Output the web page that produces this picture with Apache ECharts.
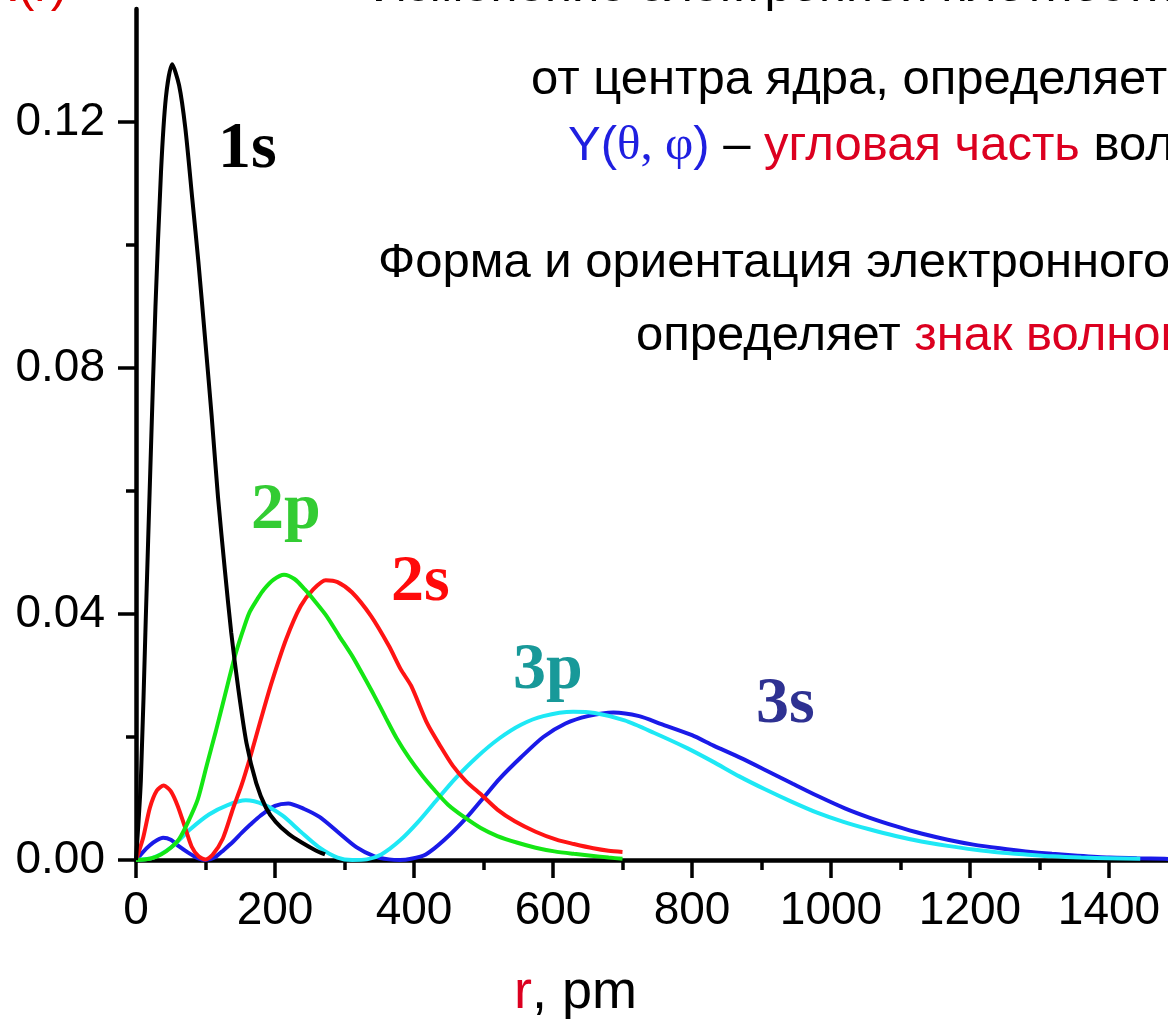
<!DOCTYPE html>
<html><head><meta charset="utf-8">
<script src="https://cdn.jsdelivr.net/npm/echarts@6/dist/echarts.min.js"></script>
<style>html,body{margin:0;padding:0;background:#fff;overflow:hidden}#c{width:1168px;height:1020px}</style>
</head><body><div id="c"></div>
<script>
// ---- data (r in pm, radial probability) ----
const xTicks = [0, 200, 400, 600, 800, 1000, 1200, 1400];
const yTicks = [0, 0.04, 0.08, 0.12];
const yMinorTicks = [0.02, 0.06, 0.10];

const r1s = [0, 7, 14, 21, 28, 36, 43, 52, 62, 71, 81, 90, 100, 109, 118, 128, 137, 147, 159, 173, 187, 201, 220, 239, 258, 272];
const v1s = [0, 0.013, 0.039, 0.065, 0.090, 0.112, 0.124, 0.1294, 0.126, 0.119, 0.1075, 0.097, 0.084, 0.072, 0.059, 0.047, 0.037, 0.028, 0.019, 0.0125, 0.0085, 0.0062, 0.0042, 0.0028, 0.0016, 0.0009];

const r2s = [0, 10, 20, 30, 40, 50, 60, 70, 80, 90, 100, 110, 125, 140, 152, 165, 180, 195, 216, 237, 255, 273, 290, 311, 338, 364, 381, 396, 419, 438, 456, 475, 498, 520, 545, 575, 605, 630, 658, 680, 700];
const v2s = [0, 0.0035, 0.0085, 0.0113, 0.0121, 0.0112, 0.0088, 0.0055, 0.0022, 0.0006, 0.0001, 0.0008, 0.0035, 0.0085, 0.0122, 0.0170, 0.0230, 0.0288, 0.0359, 0.0413, 0.0440, 0.0455, 0.0452, 0.0435, 0.0397, 0.0348, 0.0310, 0.0283, 0.0222, 0.0185, 0.0153, 0.0128, 0.0105, 0.0082, 0.0063, 0.0046, 0.0033, 0.0026, 0.0019, 0.0015, 0.0013];

const r2p = [0, 20, 36, 50, 62, 75, 89, 102, 115, 128, 142, 153, 163, 175, 184, 198, 213, 228, 243, 258, 274, 292, 311, 327, 343, 360, 375, 393, 412, 430, 449, 472, 496, 520, 549, 575, 602, 630, 655, 680, 700];
const v2p = [0, 0.0002, 0.0009, 0.0020, 0.0034, 0.0062, 0.0099, 0.0155, 0.0210, 0.0268, 0.0330, 0.0370, 0.0402, 0.0425, 0.0440, 0.0456, 0.0464, 0.0457, 0.0440, 0.0420, 0.0397, 0.0365, 0.0332, 0.0300, 0.0267, 0.0230, 0.0198, 0.0166, 0.0137, 0.0113, 0.0090, 0.0070, 0.0052, 0.0039, 0.0028, 0.0020, 0.0014, 0.0010, 0.0007, 0.0004, 0.0002];

const r3s = [0, 10, 20, 30, 39, 50, 62, 75, 89, 100, 113, 126, 140, 152, 165, 179, 200, 219, 242, 264, 290, 317, 343, 364, 380, 396, 417, 443, 475, 502, 523, 554, 586, 618, 650, 687, 724, 756, 800, 831, 870, 906, 945, 981, 1020, 1055, 1093, 1130, 1168, 1205, 1243, 1280, 1318, 1355, 1400, 1440, 1480, 1500];
const v3s = [0, 0.0013, 0.0024, 0.0032, 0.0036, 0.0033, 0.0022, 0.0012, 0.0003, 0, 0.0004, 0.0016, 0.0030, 0.0044, 0.0058, 0.0072, 0.0088, 0.0092, 0.0083, 0.0070, 0.0046, 0.0021, 0.0006, 0.0001, 0, 0.0002, 0.0009, 0.0032, 0.0068, 0.0104, 0.0132, 0.0167, 0.0200, 0.0222, 0.0234, 0.0240, 0.0234, 0.0221, 0.0203, 0.0186, 0.0166, 0.0146, 0.0124, 0.0104, 0.0084, 0.0069, 0.0055, 0.0043, 0.0033, 0.0025, 0.0019, 0.0014, 0.0010, 0.0007, 0.0004, 0.0003, 0.0002, 0.0001];

const r3p = [0, 25, 52, 78, 105, 131, 158, 184, 211, 237, 263, 290, 311, 332, 353, 380, 406, 433, 459, 491, 523, 554, 586, 629, 660, 703, 745, 793, 830, 868, 905, 943, 980, 1018, 1055, 1093, 1130, 1168, 1205, 1243, 1280, 1318, 1360, 1400, 1445];
const v3p = [0, 0.0004, 0.0022, 0.0050, 0.0074, 0.0089, 0.0097, 0.0090, 0.0072, 0.0046, 0.0021, 0.0004, 0, 0.0001, 0.0009, 0.0032, 0.0062, 0.0098, 0.0132, 0.0168, 0.0198, 0.0220, 0.0234, 0.0241, 0.0239, 0.0227, 0.0207, 0.0182, 0.0160, 0.0136, 0.0115, 0.0095, 0.0077, 0.0062, 0.0050, 0.0039, 0.0030, 0.0023, 0.0017, 0.0012, 0.0009, 0.0006, 0.0004, 0.0003, 0.0002];

const seriesNames = ['3s', '3p', '2s', '2p', '1s'];
const seriesColors = ['#1a1ae8', '#1ee8f5', '#ff1414', '#14e614', '#000000'];

function pairs(xs, ys) { return xs.map((x, i) => [x, ys[i]]); }
const seriesData = [pairs(r3s, v3s), pairs(r3p, v3p), pairs(r2s, v2s), pairs(r2p, v2p), pairs(r1s, v1s)];

const SANS = "'Liberation Sans', Arial, sans-serif";
const SERIF = "'Liberation Serif', 'Times New Roman', serif";
const mid = (baseline, fs, k) => baseline - (k || 0.3465) * fs;
const TF = 49;

const chart = echarts.init(document.getElementById('c'), null, { renderer: 'canvas' });

const labelTxt = (text, x, baseline, color) => ({
  type: 'text', x: x, y: mid(baseline, 66, 0.3375), z: 50,
  style: { text: text, fill: color, font: "bold 66px " + SERIF, align: 'left', verticalAlign: 'middle' }
});
const plainTxt = (text, x, baseline, color, fs) => ({
  type: 'text', x: x, y: mid(baseline, fs), z: 50,
  style: { text: text, fill: color, font: fs + "px " + SANS, align: 'left', verticalAlign: 'middle' }
});

const option = {
  animation: false,
  backgroundColor: '#ffffff',
  grid: { left: 136, top: 9, width: 1112, height: 851, containLabel: false, outerBoundsMode: 'none' },
  xAxis: {
    type: 'value', min: 0, max: 1600, interval: 200,
    axisLine: { show: true, onZero: false, lineStyle: { color: '#000', width: 4.5 } },
    axisTick: { show: true, length: 18, lineStyle: { color: '#000', width: 3.5 } },
    minorTick: { show: true, splitNumber: 2, length: 10, lineStyle: { color: '#000', width: 3.5 } },
    splitLine: { show: false }, minorSplitLine: { show: false },
    axisLabel: { color: '#000', fontSize: 46, fontFamily: SANS, margin: 28,
      formatter: v => (xTicks.indexOf(v) >= 0 ? String(v) : '') }
  },
  yAxis: [{
    type: 'value', min: 0, max: 0.1384,
    axisLine: { show: true, lineStyle: { color: '#000', width: 4.5 } },
    axisTick: { show: true, length: 18, customValues: yTicks, lineStyle: { color: '#000', width: 3.5 } },
    splitLine: { show: false },
    axisLabel: { color: '#000', fontSize: 46, fontFamily: SANS, margin: 31, customValues: yTicks,
      formatter: v => Number(v).toFixed(2) }
  }, {
    type: 'value', min: 0, max: 0.1384, position: 'left',
    axisLine: { show: false },
    axisTick: { show: true, length: 10, customValues: yMinorTicks, lineStyle: { color: '#000', width: 3.5 } },
    axisLabel: { show: false },
    splitLine: { show: false }
  }],
  series: seriesNames.map((n, i) => ({
    name: n, type: 'line', data: seriesData[i], yAxisIndex: 0,
    showSymbol: false, symbol: 'none', smooth: 0.25,
    lineStyle: { color: seriesColors[i], width: 4 },
    z: 2 + i
  })),
  graphic: [
    { type: 'text', x: 67, y: mid(4, TF), z: 50,
      style: { text: 'R(r)', fill: '#e00000', font: TF + 'px ' + SANS, align: 'right', verticalAlign: 'middle' } },
    plainTxt('Изменение электронной плотности', 372, 4, '#000', TF),
    plainTxt('от центра ядра, определяет', 531, 97, '#000', TF),
    { type: 'text', x: 568, y: mid(163, TF), z: 50,
      style: {
        text: '{b|Y(}{g|θ}{g|, }{g|φ}{b|)}{k| – }{r|угловая часть}{k| волновой}',
        verticalAlign: 'middle', align: 'left',
        rich: {
          b: { fill: '#1f1fe0', fontSize: TF, fontFamily: SANS },
          g: { fill: '#1f1fe0', fontSize: TF, fontFamily: SERIF },
          k: { fill: '#000000', fontSize: TF, fontFamily: SANS },
          r: { fill: '#dc0020', fontSize: TF, fontFamily: SANS }
        }
      } },
    plainTxt('Форма и ориентация электронного', 378, 280, '#000', TF),
    { type: 'text', x: 636, y: mid(353, TF), z: 50,
      style: {
        text: '{k|определяет }{r|знак волновой}',
        verticalAlign: 'middle', align: 'left',
        rich: {
          k: { fill: '#000000', fontSize: TF, fontFamily: SANS },
          r: { fill: '#dc0020', fontSize: TF, fontFamily: SANS }
        }
      } },
    labelTxt('1s', 218, 172, '#000000'),
    labelTxt('2p', 251, 533, '#33cc33'),
    labelTxt('2s', 391, 605, '#ff0a0a'),
    labelTxt('3p', 513, 693, '#189999'),
    labelTxt('3s', 756, 727, '#2e3192'),
    { type: 'text', x: 514, y: mid(1012, 54), z: 50,
      style: {
        text: '{r|r}{k|, pm}', verticalAlign: 'middle', align: 'left',
        rich: {
          r: { fill: '#dc0020', fontSize: 54, fontFamily: SANS },
          k: { fill: '#000000', fontSize: 54, fontFamily: SANS }
        }
      } }
  ]
};
chart.setOption(option);
</script></body></html>
